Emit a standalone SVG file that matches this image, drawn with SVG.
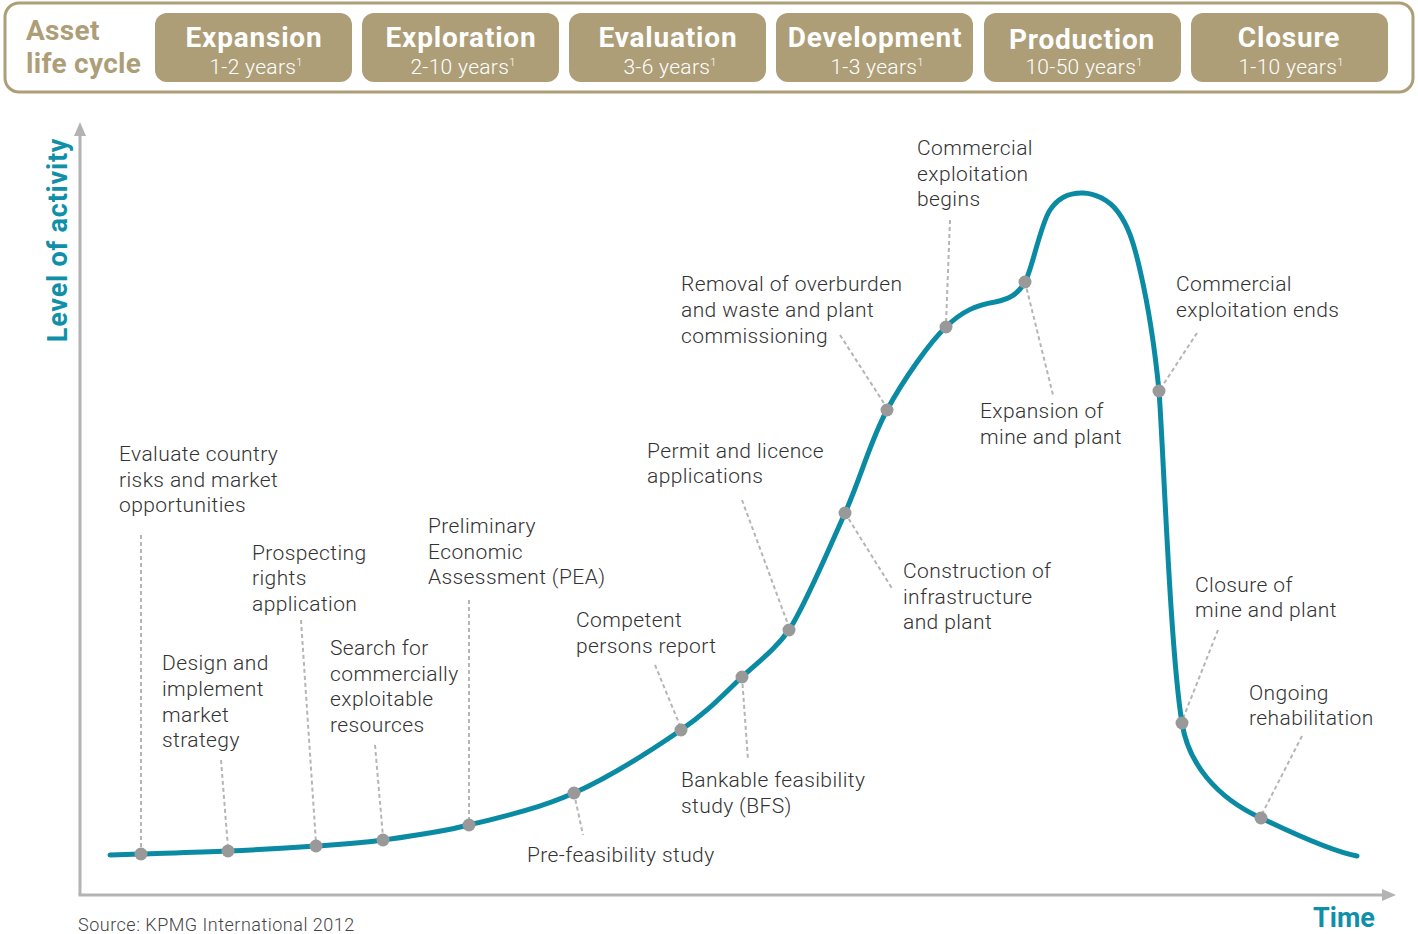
<svg xmlns="http://www.w3.org/2000/svg" width="1418" height="934" viewBox="0 0 1418 934">
<style>
.phase{fill:#ad9e77}
.ptitle{font-family:Roboto,"Liberation Sans",sans-serif;font-weight:700;font-size:28px;letter-spacing:0.8px;fill:#ffffff;text-anchor:middle}
.psub{font-family:Roboto,"Liberation Sans",sans-serif;font-weight:300;font-size:21px;letter-spacing:0.3px;fill:#ffffff;text-anchor:middle}
.sup{font-size:11px}
.lbl{font-family:Roboto,"Liberation Sans",sans-serif;font-weight:300;font-size:21px;letter-spacing:0.4px;fill:#333333}
.lead{stroke:#b5b5b5;stroke-width:2;stroke-dasharray:4 3;fill:none}
.dot{fill:#999999}
.axis{stroke:#b3b3b3;stroke-width:3;fill:none}
</style>
<rect width="1418" height="934" fill="#ffffff"/>
<g id="header">
<rect x="5" y="3" width="1408" height="89" rx="14" fill="none" stroke="#ad9e77" stroke-width="3"/>
<text x="26" y="40" font-family="Roboto,'Liberation Sans',sans-serif" font-weight="700" font-size="28" letter-spacing="0.3" fill="#ad9e77">Asset</text>
<text x="26" y="73" font-family="Roboto,'Liberation Sans',sans-serif" font-weight="700" font-size="28" letter-spacing="0.3" fill="#ad9e77">life cycle</text>
</g>
<g id="phase-expansion"><rect class="phase" x="155" y="13" width="197" height="69" rx="12"/><text class="ptitle" x="254" y="47">Expansion</text><text class="psub" x="256" y="74">1-2 years<tspan class="sup" dy="-8">1</tspan></text></g>
<g id="phase-exploration"><rect class="phase" x="362" y="13" width="197" height="69" rx="12"/><text class="ptitle" x="461" y="47">Exploration</text><text class="psub" x="463" y="74">2-10 years<tspan class="sup" dy="-8">1</tspan></text></g>
<g id="phase-evaluation"><rect class="phase" x="569" y="13" width="197" height="69" rx="12"/><text class="ptitle" x="668" y="47">Evaluation</text><text class="psub" x="670" y="74">3-6 years<tspan class="sup" dy="-8">1</tspan></text></g>
<g id="phase-development"><rect class="phase" x="776" y="13" width="197" height="69" rx="12"/><text class="ptitle" x="875" y="47">Development</text><text class="psub" x="877" y="74">1-3 years<tspan class="sup" dy="-8">1</tspan></text></g>
<g id="phase-production"><rect class="phase" x="984" y="13" width="197" height="69" rx="12"/><text class="ptitle" x="1082" y="49">Production</text><text class="psub" x="1084" y="74">10-50 years<tspan class="sup" dy="-8">1</tspan></text></g>
<g id="phase-closure"><rect class="phase" x="1191" y="13" width="197" height="69" rx="12"/><text class="ptitle" x="1289" y="47">Closure</text><text class="psub" x="1291" y="74">1-10 years<tspan class="sup" dy="-8">1</tspan></text></g>

<g id="axes">
<line class="axis" x1="80" y1="134" x2="80" y2="895"/>
<line class="axis" x1="78.5" y1="895" x2="1383" y2="895"/>
<polygon points="80,122 74,136 86,136" fill="#b3b3b3"/>
<polygon points="1396,895 1382,889 1382,901" fill="#b3b3b3"/>
<text transform="translate(67,240) rotate(-90)" text-anchor="middle" font-family="Roboto,'Liberation Sans',sans-serif" font-weight="700" font-size="27" letter-spacing="0.8" fill="#1090a8">Level of activity</text>
<text x="1313" y="927" font-family="Roboto,'Liberation Sans',sans-serif" font-weight="700" font-size="27" fill="#1090a8">Time</text>
<text x="78" y="931" font-family="Roboto,'Liberation Sans',sans-serif" font-weight="300" font-size="18" letter-spacing="0.5" fill="#444444">Source: KPMG International 2012</text>
</g>

<g id="connectors">
<line class="lead" x1="141" y1="535" x2="141" y2="852"/>
<line class="lead" x1="221" y1="760" x2="228" y2="848"/>
<line class="lead" x1="301" y1="620" x2="316" y2="843"/>
<line class="lead" x1="375" y1="745" x2="383" y2="837"/>
<line class="lead" x1="469" y1="600" x2="469" y2="822"/>
<line class="lead" x1="574" y1="793" x2="583" y2="835"/>
<line class="lead" x1="655" y1="665" x2="681" y2="728"/>
<line class="lead" x1="742" y1="677" x2="748" y2="760"/>
<line class="lead" x1="742" y1="500" x2="789" y2="627"/>
<line class="lead" x1="845" y1="513" x2="893" y2="590"/>
<line class="lead" x1="840" y1="335" x2="887" y2="408"/>
<line class="lead" x1="950" y1="220" x2="946" y2="324"/>
<line class="lead" x1="1025" y1="282" x2="1053" y2="395"/>
<line class="lead" x1="1197" y1="333" x2="1159" y2="391" stroke-width="3" stroke-dasharray="3 2"/>
<line class="lead" x1="1218" y1="630" x2="1182" y2="721"/>
<line class="lead" x1="1302" y1="736" x2="1261" y2="816"/>
</g>

<g id="curve">
<path d="M110,855 C115.2,854.8 121.3,854.7 141,854 C160.7,853.3 198.8,852.3 228,851 C257.2,849.7 290.2,847.8 316,846 C341.8,844.2 357.5,843.5 383,840 C408.5,836.5 437.2,832.8 469,825 C500.8,817.2 538.7,808.8 574,793 C609.3,777.2 653,749.3 681,730 C709,710.7 722,695.6 742,677 C758,662 775,650 789,630 C805,606 831,544 845,513 C861.3,476.3 870.2,441 887,410 C903.8,379 930,342 946,327 C962,311 977,305 995,302 C1010,299 1018,294 1025,282 C1032,270 1040.3,224.8 1050,210 C1059.7,195.2 1071.7,192.7 1083,193 C1094.3,193.3 1108.5,199.2 1118,212 C1127.5,224.8 1133.2,240.2 1140,270 C1146,296 1153,330 1159,391 C1163,440 1170,650 1182,723 C1188,762 1215,797 1261,818 C1290,832 1335,852 1357,856" fill="none" stroke="#0b8ba3" stroke-width="5" stroke-linecap="round"/>
</g>

<g id="n-evaluate"><circle class="dot" cx="141" cy="854" r="6.5"/><text class="lbl" x="119" y="461">Evaluate country</text><text class="lbl" x="119" y="487">risks and market</text><text class="lbl" x="119" y="512">opportunities</text></g>
<g id="n-design"><circle class="dot" cx="228" cy="851" r="6.5"/><text class="lbl" x="162" y="670">Design and</text><text class="lbl" x="162" y="696">implement</text><text class="lbl" x="162" y="722">market</text><text class="lbl" x="162" y="747">strategy</text></g>
<g id="n-prospecting"><circle class="dot" cx="316" cy="846" r="6.5"/><text class="lbl" x="252" y="560">Prospecting</text><text class="lbl" x="252" y="585">rights</text><text class="lbl" x="252" y="611">application</text></g>
<g id="n-search"><circle class="dot" cx="383" cy="840" r="6.5"/><text class="lbl" x="330" y="655">Search for</text><text class="lbl" x="330" y="681">commercially</text><text class="lbl" x="330" y="706">exploitable</text><text class="lbl" x="330" y="732">resources</text></g>
<g id="n-pea"><circle class="dot" cx="469" cy="825" r="6.5"/><text class="lbl" x="428" y="533">Preliminary</text><text class="lbl" x="428" y="559">Economic</text><text class="lbl" x="428" y="584">Assessment (PEA)</text></g>
<g id="n-prefeas"><circle class="dot" cx="574" cy="793" r="6.5"/><text class="lbl" x="527" y="862">Pre-feasibility study</text></g>
<g id="n-competent"><circle class="dot" cx="681" cy="730" r="6.5"/><text class="lbl" x="576" y="627">Competent</text><text class="lbl" x="576" y="653">persons report</text></g>
<g id="n-bankable"><circle class="dot" cx="742" cy="677" r="6.5"/><text class="lbl" x="681" y="787">Bankable feasibility</text><text class="lbl" x="681" y="813">study (BFS)</text></g>
<g id="n-permit"><circle class="dot" cx="789" cy="630" r="6.5"/><text class="lbl" x="647" y="458">Permit and licence</text><text class="lbl" x="647" y="483">applications</text></g>
<g id="n-construction"><circle class="dot" cx="845" cy="513" r="6.5"/><text class="lbl" x="903" y="578">Construction of</text><text class="lbl" x="903" y="604">infrastructure</text><text class="lbl" x="903" y="629">and plant</text></g>
<g id="n-removal"><circle class="dot" cx="887" cy="410" r="6.5"/><text class="lbl" x="681" y="291">Removal of overburden</text><text class="lbl" x="681" y="317">and waste and plant</text><text class="lbl" x="681" y="343">commissioning</text></g>
<g id="n-begins"><circle class="dot" cx="946" cy="327" r="6.5"/><text class="lbl" x="917" y="155">Commercial</text><text class="lbl" x="917" y="181">exploitation</text><text class="lbl" x="917" y="206">begins</text></g>
<g id="n-expansion"><circle class="dot" cx="1025" cy="282" r="6.5"/><text class="lbl" x="980" y="418">Expansion of</text><text class="lbl" x="980" y="444">mine and plant</text></g>
<g id="n-ends"><circle class="dot" cx="1159" cy="391" r="6.5"/><text class="lbl" x="1176" y="291">Commercial</text><text class="lbl" x="1176" y="317">exploitation ends</text></g>
<g id="n-closure"><circle class="dot" cx="1182" cy="723" r="6.5"/><text class="lbl" x="1195" y="592">Closure of</text><text class="lbl" x="1195" y="617">mine and plant</text></g>
<g id="n-rehab"><circle class="dot" cx="1261" cy="818" r="6.5"/><text class="lbl" x="1249" y="700">Ongoing</text><text class="lbl" x="1249" y="725">rehabilitation</text></g>
</svg>
